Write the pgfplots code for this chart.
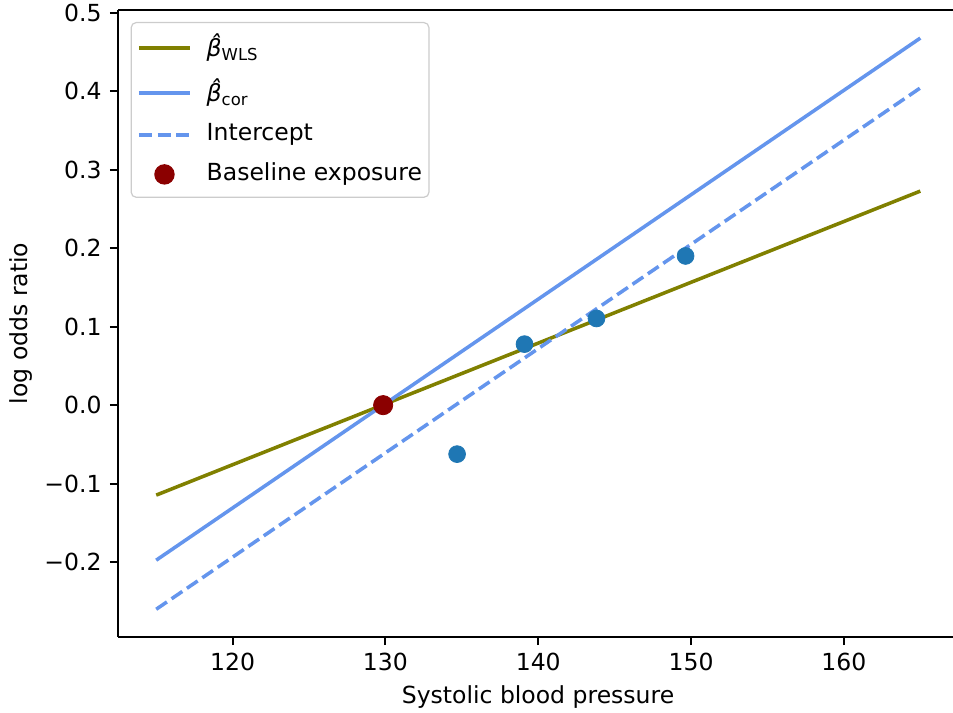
\documentclass[border=0pt]{standalone}
\usepackage{fontspec}
\setmainfont{DejaVu Sans}
\usepackage{pgfplots}
\pgfplotsset{compat=1.18}

\definecolor{olivec}{RGB}{128,128,0}
\definecolor{cfblue}{RGB}{100,149,237}
\definecolor{tabblue}{RGB}{31,119,180}
\definecolor{darkred}{RGB}{139,0,0}

\newcommand{\bhat}{{\itshape β̂}}

\begin{document}
\fontsize{11.8}{14.2}\selectfont
\begin{tikzpicture}
\begin{axis}[
  scale only axis, width=417.5bp, height=313.5bp,
  xmin=112.5, xmax=167.14, ymin=-0.2953, ymax=0.5033,
  axis x line*=box, axis y line*=left,
  axis line style={line width=0.94bp, black},
  tick pos=left, tick align=outside,
  major tick length=4.1bp,
  every tick/.style={black, line width=0.94bp},
  xtick={120,130,140,150,160},
  xticklabels={120,130,140,150,160},
  ytick={-0.2,-0.1,0,0.1,0.2,0.3,0.4,0.5},
  yticklabels={−0.2,−0.1,0.0,0.1,0.2,0.3,0.4,0.5},
  xlabel={Systolic blood pressure},
  ylabel={log odds ratio},
  xlabel style={at={(rel axis cs:0.503,0)}, anchor=base, yshift=-33.5bp},
  ylabel style={at={(rel axis cs:0,0.5)}, anchor=center, yshift=48.5bp},
  legend cell align=left,
  legend style={at={(axis description cs:0,1)}, anchor=north west,
    xshift=6.3bp, yshift=-6bp, draw=white!80!black, fill=white,
    rounded corners=2.5bp, line width=0.6bp,
    inner xsep=3bp, inner ysep=5bp, row sep=7bp,
    nodes={inner sep=0.5bp, text depth=0.25em},
    /tikz/every odd column/.style={column sep=7bp}},
  legend image code/.code={\draw[mark repeat=2,mark phase=2,#1]
    plot coordinates {(0bp,0bp) (12.75bp,0bp) (25.5bp,0bp)};},
]
\coordinate (bl) at (rel axis cs:0,0);
\coordinate (tr) at (rel axis cs:1,1);
\addplot[only marks, mark=*, mark size=4.2bp, draw=tabblue, fill=tabblue, forget plot]
  coordinates {(134.69,-0.0624) (139.1,0.0777) (143.81,0.1104) (149.64,0.190)};
\addplot[only marks, mark=*, mark size=4.8bp, draw=darkred, fill=darkred, forget plot]
  coordinates {(129.85,0.0)};
\addplot[olivec, line width=1.77bp] coordinates {(115,-0.1146) (165,0.2726)};
\addlegendentry{\bhat\textsubscript{WLS}}
\addplot[cfblue, line width=1.77bp] coordinates {(115,-0.1975) (165,0.4675)};
\addlegendentry{\bhat\textsubscript{cor}}
\addplot[cfblue, line width=1.77bp, dash pattern=on 6.5bp off 2.8bp] coordinates {(115,-0.2600) (165,0.4040)};
\addlegendentry{Intercept}
\addlegendimage{only marks, mark=*, mark size=4.8bp, draw=darkred, fill=darkred}
\addlegendentry{Baseline exposure}
\end{axis}
\pgfresetboundingbox
\path (bl) ++(-59bp,-38bp) rectangle ([yshift=5bp]tr);
\end{tikzpicture}
\end{document}
